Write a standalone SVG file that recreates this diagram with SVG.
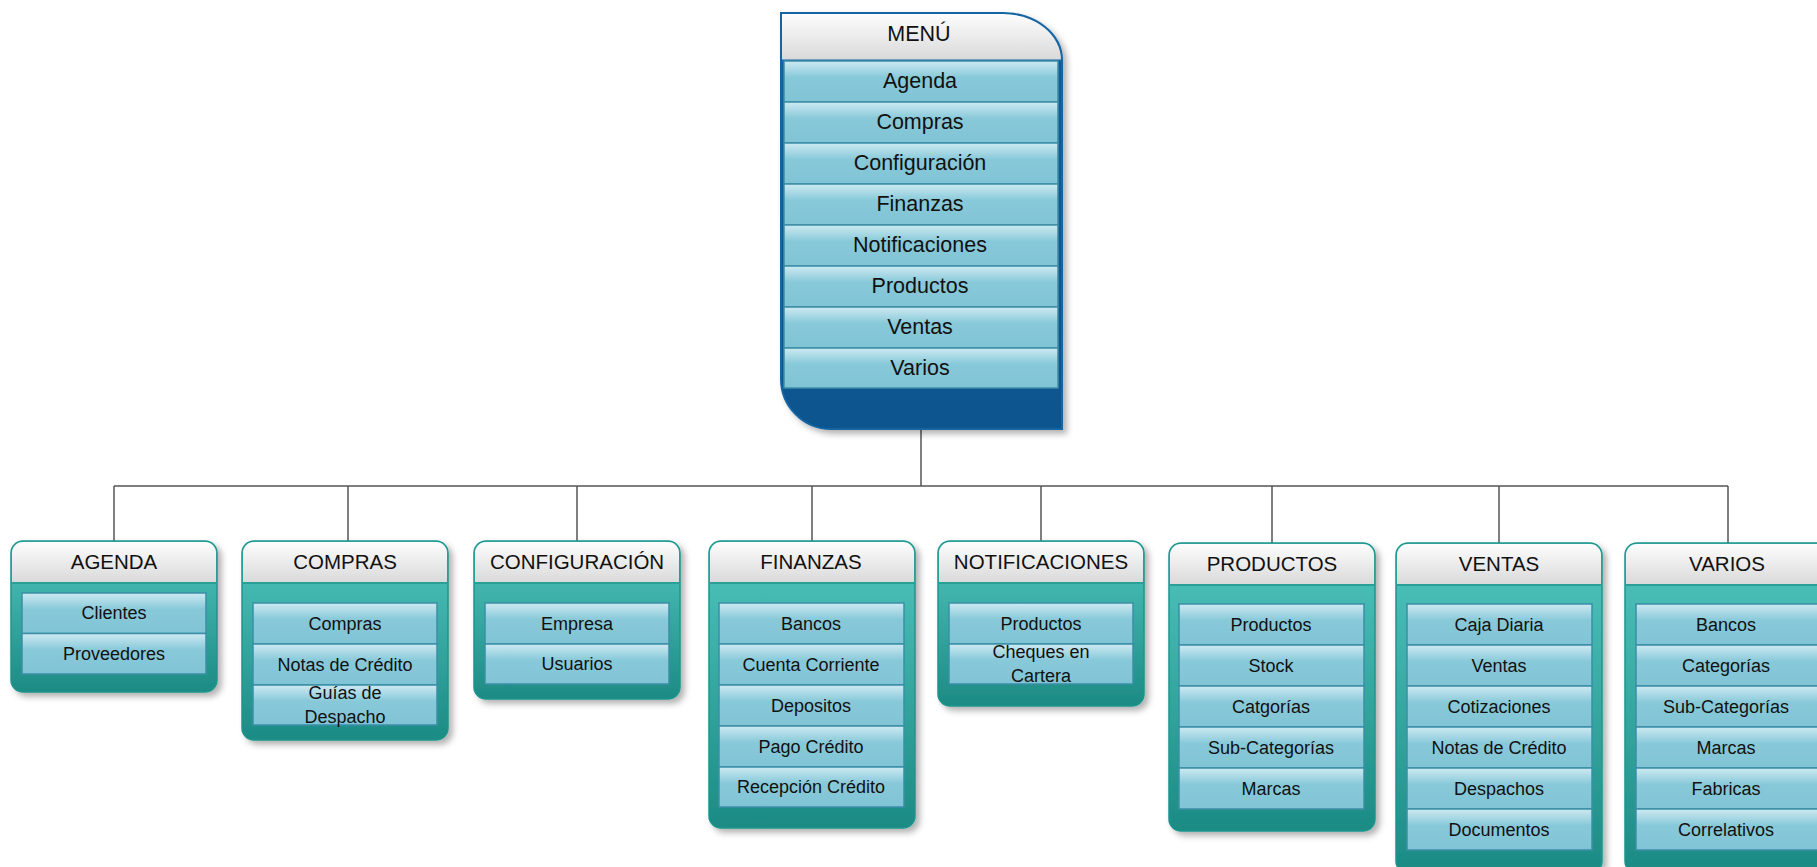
<svg xmlns="http://www.w3.org/2000/svg" width="1817" height="867" viewBox="0 0 1817 867">
<style>
.hdr{fill:url(#gHdr)}
.body{fill:url(#gBody);stroke:#1e958d;stroke-width:1.5}
.sep{stroke:#2a9f96;stroke-width:2}
.it{fill:url(#gItem);stroke:#3b8ea6;stroke-width:1.5}
.t{font-family:"Liberation Sans",Arial,sans-serif;fill:#111;text-anchor:middle}
.ti{font-size:18px}
.th{font-size:20.5px}
.tm{font-size:21.5px}
.conn{fill:none;stroke:#555;stroke-width:1.5}
</style>
<defs>
<linearGradient id="gHdr" x1="0" y1="0" x2="0" y2="1"><stop offset="0" stop-color="#fdfdfd"/><stop offset="1" stop-color="#d9d9d9"/></linearGradient>
<linearGradient id="gBody" x1="0" y1="0" x2="0" y2="1"><stop offset="0" stop-color="#4fc5bd"/><stop offset="1" stop-color="#1c8b84"/></linearGradient>
<linearGradient id="gItem" x1="0" y1="0" x2="0" y2="1"><stop offset="0" stop-color="#cdeaf2"/><stop offset="0.4" stop-color="#88c9d9"/><stop offset="1" stop-color="#80c4d5"/></linearGradient>
<linearGradient id="gFoot" x1="0" y1="0" x2="0" y2="1"><stop offset="0" stop-color="#0a5e9f"/><stop offset="1" stop-color="#07558f"/></linearGradient>
<filter id="sh" x="-10%" y="-10%" width="130%" height="130%"><feDropShadow dx="4" dy="4" stdDeviation="3" flood-color="#000" flood-opacity="0.3"/></filter>
</defs>

<g id="connectors">
<path class="conn" d="M921,429 V486 M114,486 H1728 M114,486 V541 M348,486 V541 M577,486 V541 M812,486 V541 M1041,486 V541 M1272,486 V543 M1499,486 V543 M1728,486 V543"/>
</g>

<g id="menu">
<path d="M781,13 H1003 A59,47 0 0 1 1062,60 V429 H831 A50,50 0 0 1 781,379 Z" fill="url(#gFoot)" stroke="#1565a3" stroke-width="2" filter="url(#sh)"/>
<path class="hdr" d="M782,14 H1003 A58,46 0 0 1 1061,60 H782 Z"/>
<line x1="782" y1="60.5" x2="1061" y2="60.5" stroke="#1565a3" stroke-width="2"/>
<text class="t tm" x="919" y="41">MENÚ</text>
<rect class="it" x="784" y="61" width="274" height="41"/>
<rect class="it" x="784" y="102" width="274" height="41"/>
<rect class="it" x="784" y="143" width="274" height="41"/>
<rect class="it" x="784" y="184" width="274" height="41"/>
<rect class="it" x="784" y="225" width="274" height="41"/>
<rect class="it" x="784" y="266" width="274" height="41"/>
<rect class="it" x="784" y="307" width="274" height="41"/>
<rect class="it" x="784" y="348" width="274" height="40"/>
<text class="t tm" x="920" y="88">Agenda</text>
<text class="t tm" x="920" y="129">Compras</text>
<text class="t tm" x="920" y="170">Configuración</text>
<text class="t tm" x="920" y="211">Finanzas</text>
<text class="t tm" x="920" y="252">Notificaciones</text>
<text class="t tm" x="920" y="293">Productos</text>
<text class="t tm" x="920" y="334">Ventas</text>
<text class="t tm" x="920" y="375">Varios</text>
</g>

<g id="agenda">
<rect class="body" x="11" y="541" width="206" height="151" rx="12" filter="url(#sh)"/>
<path class="hdr" d="M12,583 V553 A11,11 0 0 1 23,542 H205 A11,11 0 0 1 216,553 V583 Z"/>
<line class="sep" x1="12" y1="583" x2="216" y2="583"/>
<text class="t th" x="114" y="569">AGENDA</text>
<rect class="it" x="22" y="593" width="184" height="40.5"/>
<rect class="it" x="22" y="633.5" width="184" height="40.5"/>
<text class="t ti" x="114" y="619">Clientes</text>
<text class="t ti" x="114" y="660">Proveedores</text>
</g>

<g id="compras">
<rect class="body" x="242" y="541" width="206" height="199" rx="12" filter="url(#sh)"/>
<path class="hdr" d="M243,583 V553 A11,11 0 0 1 254,542 H436 A11,11 0 0 1 447,553 V583 Z"/>
<line class="sep" x1="243" y1="583" x2="447" y2="583"/>
<text class="t th" x="345" y="569">COMPRAS</text>
<rect class="it" x="253" y="603" width="184" height="41"/>
<rect class="it" x="253" y="644" width="184" height="41"/>
<rect class="it" x="253" y="685" width="184" height="40"/>
<text class="t ti" x="345" y="629.5">Compras</text>
<text class="t ti" x="345" y="670.5">Notas de Crédito</text>
<text class="t ti" x="345" y="699">Guías de</text>
<text class="t ti" x="345" y="723">Despacho</text>
</g>

<g id="configuracion">
<rect class="body" x="474" y="541" width="206" height="158" rx="12" filter="url(#sh)"/>
<path class="hdr" d="M475,583 V553 A11,11 0 0 1 486,542 H668 A11,11 0 0 1 679,553 V583 Z"/>
<line class="sep" x1="475" y1="583" x2="679" y2="583"/>
<text class="t th" x="577" y="569">CONFIGURACIÓN</text>
<rect class="it" x="485" y="603" width="184" height="41"/>
<rect class="it" x="485" y="644" width="184" height="40"/>
<text class="t ti" x="577" y="629.5">Empresa</text>
<text class="t ti" x="577" y="670">Usuarios</text>
</g>

<g id="finanzas">
<rect class="body" x="709" y="541" width="206" height="287" rx="12" filter="url(#sh)"/>
<path class="hdr" d="M710,583 V553 A11,11 0 0 1 721,542 H903 A11,11 0 0 1 914,553 V583 Z"/>
<line class="sep" x1="710" y1="583" x2="914" y2="583"/>
<text class="t th" x="811" y="569">FINANZAS</text>
<rect class="it" x="719" y="603" width="185" height="41"/>
<rect class="it" x="719" y="644" width="185" height="41"/>
<rect class="it" x="719" y="685" width="185" height="41"/>
<rect class="it" x="719" y="726" width="185" height="41"/>
<rect class="it" x="719" y="767" width="185" height="40"/>
<text class="t ti" x="811" y="629.5">Bancos</text>
<text class="t ti" x="811" y="670.5">Cuenta Corriente</text>
<text class="t ti" x="811" y="711.5">Depositos</text>
<text class="t ti" x="811" y="752.5">Pago Crédito</text>
<text class="t ti" x="811" y="793">Recepción Crédito</text>
</g>

<g id="notificaciones">
<rect class="body" x="938" y="541" width="206" height="165" rx="12" filter="url(#sh)"/>
<path class="hdr" d="M939,583 V553 A11,11 0 0 1 950,542 H1132 A11,11 0 0 1 1143,553 V583 Z"/>
<line class="sep" x1="939" y1="583" x2="1143" y2="583"/>
<text class="t th" x="1041" y="569">NOTIFICACIONES</text>
<rect class="it" x="949" y="603" width="184" height="41"/>
<rect class="it" x="949" y="644" width="184" height="40"/>
<text class="t ti" x="1041" y="629.5">Productos</text>
<text class="t ti" x="1041" y="658">Cheques en</text>
<text class="t ti" x="1041" y="682">Cartera</text>
</g>

<g id="productos">
<rect class="body" x="1169" y="543" width="206" height="288" rx="12" filter="url(#sh)"/>
<path class="hdr" d="M1170,585 V555 A11,11 0 0 1 1181,544 H1363 A11,11 0 0 1 1374,555 V585 Z"/>
<line class="sep" x1="1170" y1="585" x2="1374" y2="585"/>
<text class="t th" x="1272" y="571">PRODUCTOS</text>
<rect class="it" x="1179" y="604" width="185" height="41"/>
<rect class="it" x="1179" y="645" width="185" height="41"/>
<rect class="it" x="1179" y="686" width="185" height="41"/>
<rect class="it" x="1179" y="727" width="185" height="41"/>
<rect class="it" x="1179" y="768" width="185" height="41"/>
<text class="t ti" x="1271" y="630.5">Productos</text>
<text class="t ti" x="1271" y="671.5">Stock</text>
<text class="t ti" x="1271" y="712.5">Catgorías</text>
<text class="t ti" x="1271" y="753.5">Sub-Categorías</text>
<text class="t ti" x="1271" y="794.5">Marcas</text>
</g>

<g id="ventas">
<rect class="body" x="1396" y="543" width="206" height="330" rx="12" filter="url(#sh)"/>
<path class="hdr" d="M1397,585 V555 A11,11 0 0 1 1408,544 H1590 A11,11 0 0 1 1601,555 V585 Z"/>
<line class="sep" x1="1397" y1="585" x2="1601" y2="585"/>
<text class="t th" x="1499" y="571">VENTAS</text>
<rect class="it" x="1407" y="604" width="185" height="41"/>
<rect class="it" x="1407" y="645" width="185" height="41"/>
<rect class="it" x="1407" y="686" width="185" height="41"/>
<rect class="it" x="1407" y="727" width="185" height="41"/>
<rect class="it" x="1407" y="768" width="185" height="41"/>
<rect class="it" x="1407" y="809" width="185" height="41"/>
<text class="t ti" x="1499" y="630.5">Caja Diaria</text>
<text class="t ti" x="1499" y="671.5">Ventas</text>
<text class="t ti" x="1499" y="712.5">Cotizaciones</text>
<text class="t ti" x="1499" y="753.5">Notas de Crédito</text>
<text class="t ti" x="1499" y="794.5">Despachos</text>
<text class="t ti" x="1499" y="835.5">Documentos</text>
</g>

<g id="varios">
<rect class="body" x="1625" y="543" width="206" height="330" rx="12" filter="url(#sh)"/>
<path class="hdr" d="M1626,585 V555 A11,11 0 0 1 1637,544 H1819 A11,11 0 0 1 1830,555 V585 Z"/>
<line class="sep" x1="1626" y1="585" x2="1830" y2="585"/>
<text class="t th" x="1727" y="571">VARIOS</text>
<rect class="it" x="1636" y="604" width="185" height="41"/>
<rect class="it" x="1636" y="645" width="185" height="41"/>
<rect class="it" x="1636" y="686" width="185" height="41"/>
<rect class="it" x="1636" y="727" width="185" height="41"/>
<rect class="it" x="1636" y="768" width="185" height="41"/>
<rect class="it" x="1636" y="809" width="185" height="41"/>
<text class="t ti" x="1726" y="630.5">Bancos</text>
<text class="t ti" x="1726" y="671.5">Categorías</text>
<text class="t ti" x="1726" y="712.5">Sub-Categorías</text>
<text class="t ti" x="1726" y="753.5">Marcas</text>
<text class="t ti" x="1726" y="794.5">Fabricas</text>
<text class="t ti" x="1726" y="835.5">Correlativos</text>
</g>
</svg>
